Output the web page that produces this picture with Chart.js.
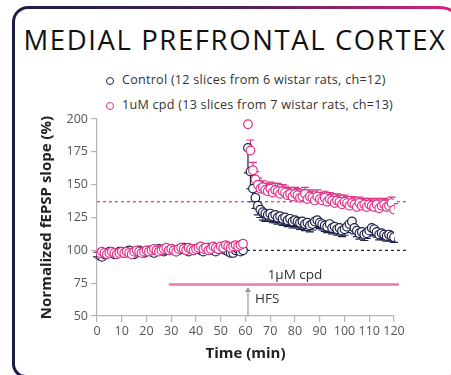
<!DOCTYPE html>
<html>
<head>
<meta charset="utf-8">
<script src="https://cdn.jsdelivr.net/npm/chart.js@4.4.1/dist/chart.umd.min.js"></script>
<style>
  html, body { margin: 0; padding: 0; background: #fff; }
  body { width: 451px; height: 375px; position: relative; overflow: hidden; font-family: "Open Sans", sans-serif; }
  .frame {
    position: absolute; left: 12px; top: 6px; width: 452px; height: 372px;
    border-radius: 16px 24px 16px 14px; background: linear-gradient(90deg, #1b1f45 0%, #4a2358 50%, #e0257f 100%);
  }
  .frame-inner {
    position: absolute; left: 3px; top: 3px; right: 3px; bottom: 3px;
    border-radius: 13px 21px 13px 11px; background: #fff;
  }
  #title {
    position: absolute; left: 0; width: 470px; top: 21px; text-align: center;
    font-size: 27.5px; color: #111; white-space: nowrap; letter-spacing: 1.6px;
  }
  #legend { position: absolute; left: 106px; top: 70px; font-size: 12.6px; color: #333; letter-spacing: 0.25px; }
  #legend .row { height: 24.5px; line-height: 20px; white-space: nowrap; }
  #legend .dot {
    display: inline-block; width: 6px; height: 6px; border-radius: 50%;
    border: 1.4px solid; margin-right: 8px; vertical-align: -1px;
  }
  canvas { position: absolute; left: 0; top: 0; }
</style>
</head>
<body>
<div class="frame"><div class="frame-inner"></div></div>
<div id="title">MEDIAL PREFRONTAL CORTEX</div>
<div id="legend"></div>
<canvas id="chart" width="451" height="375"></canvas>
<script>
const NAVY = '#1c2147';
const PINK = '#e0318a';

const seriesLabels = [
  'Control (12 slices from 6 wistar rats, ch=12)',
  '1uM cpd (13 slices from 7 wistar rats, ch=13)'
];

// time points (min): baseline, then after HFS at 60
const times = [
  0, 1, 2, 3, 4, 5, 6, 7, 8, 9, 10, 11, 12, 13, 14, 15, 16, 17, 18, 19,
  20, 21, 22, 23, 24, 25, 26, 27, 28, 29, 30, 31, 32, 33, 34, 35, 36, 37, 38, 39,
  40, 41, 42, 43, 44, 45, 46, 47, 48, 49, 50, 51, 52, 53, 54, 55, 56, 57, 58, 59,
  61, 62, 63, 64, 65, 66, 67, 68, 69, 70, 71, 72, 73, 74, 75, 76, 77, 78, 79, 80,
  81, 82, 83, 84, 85, 86, 87, 88, 89, 90, 91, 92, 93, 94, 95, 96, 97, 98, 99, 100,
  101, 102, 103, 104, 105, 106, 107, 108, 109, 110, 111, 112, 113, 114, 115, 116, 117, 118, 119, 120
];

const controlSlope = [
  97, 96, 95, 97, 98, 99, 98, 97, 98, 99,
  99, 98, 99, 100, 98, 97, 99, 100, 99, 98,
  99, 100, 99, 98, 100, 101, 100, 99, 100, 101,
  101, 100, 99, 100, 101, 102, 100, 99, 101, 100,
  101, 102, 100, 99, 101, 102, 101, 100, 99, 101,
  102, 101, 100, 99, 98, 98, 100, 101, 99, 100,
  178, 160, 147, 140, 134, 131, 129, 128, 127, 128,
  126, 127, 125, 126, 124, 125, 123, 124, 122, 123,
  122, 121, 122, 120, 121, 119, 120, 122, 123, 121,
  120, 119, 118, 120, 117, 118, 116, 117, 115, 116,
  118, 120, 122, 117, 115, 113, 114, 112, 113, 115,
  117, 116, 114, 112, 113, 112, 111, 112, 111, 110
];
const controlErr = [
  2, 2, 2, 1.5, 1.5, 1.5, 1.5, 1.5, 1.5, 1.5,
  1.5, 1.5, 1.5, 1.5, 1.5, 1.5, 1.5, 1.5, 1.5, 1.5,
  1.5, 1.5, 1.5, 1.5, 1.5, 1.5, 1.5, 1.5, 1.5, 1.5,
  1.5, 1.5, 1.5, 1.5, 1.5, 1.5, 1.5, 1.5, 1.5, 1.5,
  1.5, 1.5, 1.5, 1.5, 1.5, 1.5, 1.5, 1.5, 1.5, 1.5,
  1.5, 1.5, 1.5, 1.5, 1.5, 1.5, 1.5, 1.5, 1.5, 1.5,
  19, 13, 10, 8, 7, 6, 6, 6, 5, 6,
  5, 6, 5, 5, 5, 5, 5, 5, 5, 5,
  5, 5, 5, 5, 4.5, 5, 4.5, 4.5, 5, 4.5,
  4.5, 4.5, 4.5, 4.5, 4.5, 4.5, 4.5, 4.5, 4.5, 4.5,
  4.5, 4.5, 4.5, 4.5, 4.5, 4.5, 4, 4.5, 4, 4,
  4, 4, 4, 4, 4, 4, 4, 4, 4, 4
];

const cpdSlope = [
  97, 98, 99, 98, 97, 98, 99, 98, 97, 98,
  99, 98, 99, 98, 97, 99, 100, 99, 98, 99,
  100, 99, 100, 101, 100, 99, 100, 101, 102, 100,
  101, 100, 99, 101, 102, 101, 100, 102, 101, 100,
  101, 102, 103, 101, 102, 100, 101, 103, 102, 101,
  103, 102, 104, 103, 102, 103, 104, 103, 104, 105,
  196, 176, 161, 154, 150, 147, 148, 146, 145, 147,
  144, 146, 145, 143, 145, 144, 142, 143, 141, 143,
  142, 140, 141, 143, 139, 141, 140, 138, 141, 139,
  138, 140, 137, 139, 138, 136, 138, 137, 135, 137,
  136, 134, 136, 135, 133, 136, 134, 135, 133, 135,
  134, 133, 135, 132, 134, 135, 133, 134, 136, 131
];
const cpdErr = [
  1.5, 1.5, 1.5, 1.5, 1.5, 1.5, 1.5, 1.5, 1.5, 1.5,
  1.5, 1.5, 1.5, 1.5, 1.5, 1.5, 1.5, 1.5, 1.5, 1.5,
  1.5, 1.5, 1.5, 1.5, 1.5, 1.5, 1.5, 1.5, 1.5, 1.5,
  1.5, 1.5, 1.5, 1.5, 1.5, 1.5, 1.5, 1.5, 1.5, 1.5,
  1.5, 1.5, 1.5, 1.5, 1.5, 1.5, 1.5, 1.5, 1.5, 1.5,
  1.5, 1.5, 1.5, 1.5, 1.5, 1.5, 1.5, 1.5, 1.5, 2,
  2, 8, 6, 6, 5, 5, 5, 5, 5, 5,
  5, 5, 6, 5, 5, 5, 5, 5, 5, 5,
  5, 5, 5, 5, 5, 5, 5, 5, 5, 5,
  5, 5, 5, 5, 5, 5, 5, 5, 5, 5,
  5, 5, 5, 5, 4.5, 4.5, 4.5, 4.5, 4.5, 4.5,
  4.5, 4.5, 4.5, 4.5, 4.5, 4.5, 4.5, 4.5, 4.5, 4.5
];

const xTicks = [0, 10, 20, 30, 40, 50, 60, 70, 80, 90, 100, 110, 120];
const yTicks = [50, 75, 100, 125, 150, 175, 200];

// reference lines and annotations (data units)
const controlLevel = 100;
const cpdLevel = 137;
const refLineEnd = 125;
const drugStart = 29, drugEnd = 122, drugLevel = 74;
const hfsTime = 61, hfsTop = 72;

// legend
document.getElementById('legend').innerHTML = seriesLabels.map((label, i) => `
  <div class="row"><span class="dot" style="border-color:${i ? PINK : NAVY}"></span>${label}</div>
`).join('');

function toPoints(values) {
  return values.map((v, i) => ({ x: times[i], y: v }));
}

const overlay = {
  id: 'overlay',
  beforeDatasetsDraw(chart) {
    const { ctx, scales: { x, y } } = chart;
    ctx.save();
    // dashed reference levels
    ctx.lineWidth = 1.2;
    ctx.setLineDash([3, 3]);
    [[cpdLevel, PINK], [controlLevel, NAVY]].forEach(([lvl, col]) => {
      ctx.strokeStyle = col;
      ctx.beginPath();
      ctx.moveTo(x.getPixelForValue(0), y.getPixelForValue(lvl));
      ctx.lineTo(x.getPixelForValue(refLineEnd), y.getPixelForValue(lvl));
      ctx.stroke();
    });
    ctx.setLineDash([]);
    // error bars: control down, cpd up
    const errs = [[controlErr, -1], [cpdErr, 1]];
    chart.data.datasets.forEach((ds, di) => {
      const meta = chart.getDatasetMeta(di);
      const [err, dir] = errs[di];
      ctx.strokeStyle = ds.borderColor;
      ctx.lineWidth = 1.2;
      meta.data.forEach((pt, i) => {
        const v = ds.data[i].y;
        const yEnd = y.getPixelForValue(v + dir * err[i]);
        ctx.beginPath();
        ctx.moveTo(pt.x, pt.y);
        ctx.lineTo(pt.x, yEnd);
        ctx.moveTo(pt.x - 4, yEnd);
        ctx.lineTo(pt.x + 4, yEnd);
        ctx.stroke();
      });
    });
    ctx.restore();
  },
  afterDraw(chart) {
    const { ctx, scales: { x, y } } = chart;
    ctx.save();
    // drug application bar
    ctx.strokeStyle = '#e77aae';
    ctx.lineWidth = 2.5;
    ctx.beginPath();
    ctx.moveTo(x.getPixelForValue(drugStart), y.getPixelForValue(drugLevel));
    ctx.lineTo(x.getPixelForValue(drugEnd), y.getPixelForValue(drugLevel));
    ctx.stroke();
    ctx.fillStyle = '#333';
    ctx.font = '13.5px "Open Sans"';
    ctx.textAlign = 'center';
    ctx.textBaseline = 'middle';
    ctx.fillText('1µM cpd', x.getPixelForValue(80), y.getPixelForValue(81));
    // HFS arrow
    const ax = x.getPixelForValue(hfsTime);
    const ay = y.getPixelForValue(hfsTop);
    ctx.strokeStyle = '#9a9a9a';
    ctx.fillStyle = '#9a9a9a';
    ctx.lineWidth = 1.2;
    ctx.beginPath();
    ctx.moveTo(ax, y.getPixelForValue(50));
    ctx.lineTo(ax, ay + 3);
    ctx.stroke();
    ctx.beginPath();
    ctx.moveTo(ax, ay);
    ctx.lineTo(ax - 3, ay + 5);
    ctx.lineTo(ax + 3, ay + 5);
    ctx.closePath();
    ctx.fill();
    ctx.fillStyle = '#333';
    ctx.textAlign = 'left';
    ctx.fillText('HFS', ax + 7, y.getPixelForValue(62.5));
    ctx.restore();
  }
};

const tickFont = { family: 'Open Sans', size: 12.5 };
const titleFont = { family: 'Open Sans', size: 15, weight: 'bold' };

new Chart(document.getElementById('chart'), {
  type: 'scatter',
  data: {
    datasets: [
      {
        label: seriesLabels[0],
        data: toPoints(controlSlope),
        borderColor: NAVY,
        backgroundColor: '#fff',
        pointRadius: 4.3,
        pointBorderWidth: 1.2,
        order: 2
      },
      {
        label: seriesLabels[1],
        data: toPoints(cpdSlope),
        borderColor: PINK,
        backgroundColor: '#fff',
        pointRadius: 4.3,
        pointBorderWidth: 1.2,
        order: 1
      }
    ]
  },
  options: {
    responsive: false,
    animation: false,
    events: [],
    layout: { padding: { left: 34, top: 119, right: 57, bottom: 8 } },
    plugins: { legend: { display: false }, tooltip: { enabled: false } },
    scales: {
      x: {
        type: 'linear', min: 0, max: 120,
        afterFit: (s) => { s.height = 51; },
        afterBuildTicks: (s) => { s.ticks = xTicks.map(v => ({ value: v })); },
        border: { color: '#b5b5b5', width: 1.2 },
        grid: { drawOnChartArea: false, tickLength: 6, color: '#b5b5b5', lineWidth: 1.2 },
        ticks: { color: '#555', font: tickFont, padding: 2, maxRotation: 0, autoSkip: false },
        title: { display: true, text: 'Time (min)', color: '#222', font: titleFont }
      },
      y: {
        min: 50, max: 200,
        afterFit: (s) => { s.width = 63; },
        afterBuildTicks: (s) => { s.ticks = yTicks.map(v => ({ value: v })); },
        border: { color: '#b5b5b5', width: 1.2 },
        grid: { drawOnChartArea: false, tickLength: 6, color: '#b5b5b5', lineWidth: 1.2 },
        ticks: { color: '#555', font: tickFont, padding: 3 },
        title: { display: true, text: 'Normalized fEPSP slope (%)', color: '#222', font: titleFont }
      }
    }
  },
  plugins: [overlay]
});
</script>
</body>
</html>
